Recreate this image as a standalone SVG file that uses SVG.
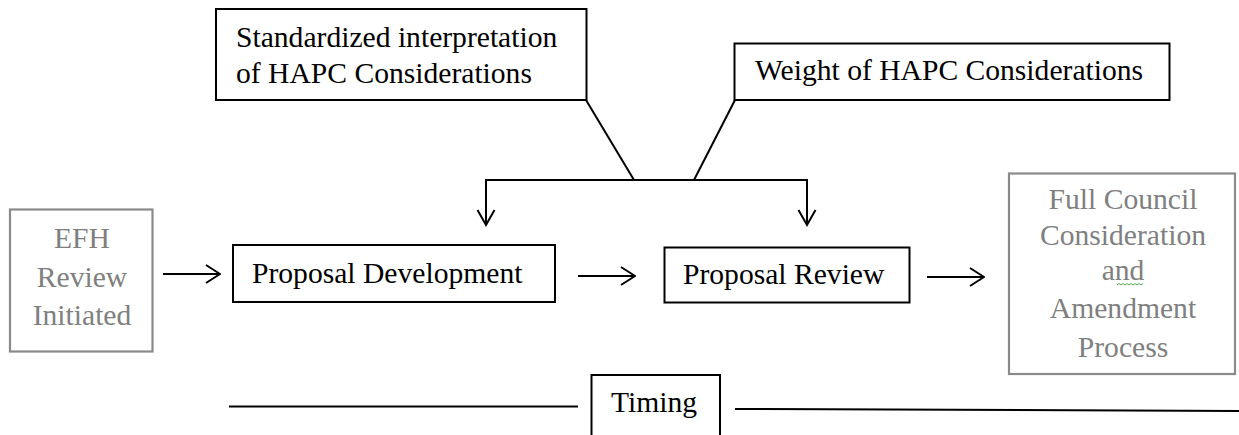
<svg xmlns="http://www.w3.org/2000/svg" width="1239" height="435" viewBox="0 0 1239 435">
  <style>
    .box { fill: #ffffff; stroke: #000000; stroke-width: 2; }
    .gbox { fill: #ffffff; stroke: #8a8a8a; stroke-width: 2.2; }
    .t { font-family: "Liberation Serif", "Times New Roman", serif; font-size: 29.6px; fill: #000000; }
    .gt { font-family: "Liberation Serif", "Times New Roman", serif; font-size: 29.6px; fill: #7f7f7f; text-anchor: middle; }
    .ln { fill: none; stroke: #000000; stroke-width: 2; }
    .head { fill: none; stroke: #000000; stroke-width: 2; stroke-linejoin: miter; }
  </style>
  <defs>
    <marker id="open" viewBox="0 0 16 20" refX="15" refY="10" markerWidth="16" markerHeight="20" markerUnits="userSpaceOnUse" orient="auto">
      <path d="M1,1 L15,10 L1,19" fill="none" stroke="#000" stroke-width="2"/>
    </marker>
  </defs>

  <rect width="1239" height="435" fill="#ffffff"/>

  <!-- connectors -->
  <g id="connectors">
    <!-- inputs from the two consideration boxes merging into a bracket -->
    <path class="ln" d="M586,100 L634,180"/>
    <path class="ln" d="M735,100 L694,180"/>
    <path class="ln" d="M486,225 L486,180 L807,180 L807,225"/>
    <path class="head" d="M477.5,210 L486,225 L494.5,210"/>
    <path class="head" d="M798.5,210 L807,225 L815.5,210"/>
    <!-- main process flow -->
    <line class="ln" x1="163" y1="274" x2="220" y2="274" marker-end="url(#open)"/>
    <line class="ln" x1="578" y1="276" x2="635" y2="276" marker-end="url(#open)"/>
    <line class="ln" x1="927" y1="277" x2="984" y2="277" marker-end="url(#open)"/>
    <!-- timeline -->
    <line class="ln" x1="229" y1="406.5" x2="578" y2="406.5"/>
    <line class="ln" x1="735" y1="409" x2="1239" y2="411"/>
  </g>

  <g id="standardized-interpretation">
    <rect class="box" x="216" y="9" width="370.5" height="91"/>
    <text class="t" x="236" y="47">Standardized interpretation</text>
    <text class="t" x="236" y="83">of HAPC Considerations</text>
  </g>

  <g id="weight-of-hapc">
    <rect class="box" x="734.5" y="43.5" width="435" height="56.5"/>
    <text class="t" x="755" y="80">Weight of HAPC Considerations</text>
  </g>

  <g id="efh-review-initiated">
    <rect class="gbox" x="10" y="209.5" width="142.5" height="142"/>
    <text class="gt" x="82" y="248">EFH</text>
    <text class="gt" x="82" y="287">Review</text>
    <text class="gt" x="82" y="325">Initiated</text>
  </g>

  <g id="proposal-development">
    <rect class="box" x="233" y="245" width="322" height="57"/>
    <text class="t" x="252" y="283">Proposal Development</text>
  </g>

  <g id="proposal-review">
    <rect class="box" x="664.5" y="247.5" width="245" height="55"/>
    <text class="t" x="683" y="284">Proposal Review</text>
  </g>

  <g id="full-council">
    <rect class="gbox" x="1009" y="173.5" width="226" height="200.5"/>
    <text class="gt" x="1123" y="209">Full Council</text>
    <text class="gt" x="1123" y="245">Consideration</text>
    <text class="gt" x="1123" y="280">and</text>
    <path d="M1117,285 l2,-1.5 l2,1.5 l2,-1.5 l2,1.5 l2,-1.5 l2,1.5 l2,-1.5 l2,1.5 l2,-1.5 l2,1.5 l2,-1.5 l2,1.5 l2,-1.5" fill="none" stroke="#3aa83a" stroke-width="0.9"/>
    <text class="gt" x="1123" y="318">Amendment</text>
    <text class="gt" x="1123" y="357">Process</text>
  </g>

  <g id="timing">
    <rect class="box" x="591.5" y="375" width="128.5" height="70"/>
    <text class="t" x="611" y="412">Timing</text>
  </g>
</svg>
